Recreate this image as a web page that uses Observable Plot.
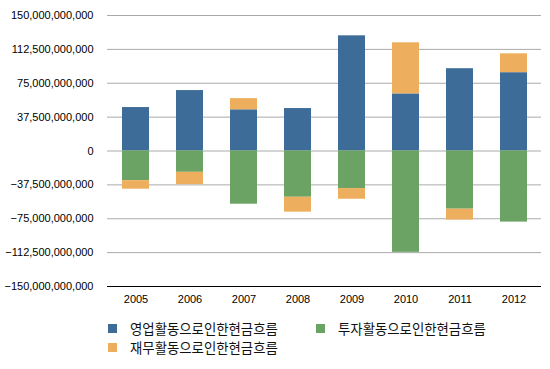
<!DOCTYPE html>
<html>
<head>
<meta charset="utf-8">
<script src="https://cdn.jsdelivr.net/npm/d3@7"></script>
<script src="https://cdn.jsdelivr.net/npm/@observablehq/plot@0.6"></script>
<style>
  body { margin: 0; background: #fff; width: 550px; height: 369px; overflow: hidden; position: relative; }
  #chart svg { display: block; }
  .legend { position: absolute; left: 0; top: 0; width: 550px; height: 369px; font-family: "Noto Sans CJK KR", sans-serif; font-size: 13.4px; color: #111; }
  .item { position: absolute; white-space: nowrap; line-height: 15px; height: 15px; }
  .sw { position: absolute; width: 9px; height: 9px; top: 3px; }
  .lbl { position: absolute; top: 0; }
</style>
</head>
<body>
<div id="chart"></div>
<div class="legend" id="legend"></div>
<script>
const years = ["2005", "2006", "2007", "2008", "2009", "2010", "2011", "2012"];
const seriesNames = ["영업활동으로인한현금흐름", "투자활동으로인한현금흐름", "재무활동으로인한현금흐름"];
const seriesColors = ["#3c6c97", "#6aa363", "#edaf5d"];
// values in billions (KRW)
const operating = [48.1, 66.9, 45.6, 47.0, 127.5, 63.2, 91.1, 86.7];
const investing = [-32.8, -23.6, -58.9, -51.2, -41.6, -112.2, -64.4, -78.7];
const financing = [-9.5, -13.6, 12.4, -16.5, -11.8, 56.6, -12.1, 20.9];
const yTicks = [150e9, 112.5e9, 75e9, 37.5e9, 0, -37.5e9, -75e9, -112.5e9, -150e9];

const seriesValues = [operating, investing, financing];
const rows = [];
years.forEach((yr, i) => {
  seriesValues.forEach((vals, s) => {
    rows.push({year: yr, series: seriesNames[s], value: vals[i] * 1e9});
  });
});

const fmt = d3.format(",");

const chart = Plot.plot({
  width: 550,
  height: 310,
  marginTop: 15,
  marginBottom: 24,
  marginLeft: 107,
  marginRight: 9,
  style: {fontFamily: "'Liberation Sans', Arial, sans-serif", fontSize: "11px", color: "#000", background: "#fff"},
  x: {domain: years, paddingInner: 0.5, paddingOuter: 0.25, label: null},
  y: {domain: [-150e9, 150e9], label: null},
  color: {domain: seriesNames, range: seriesColors},
  marks: [
    Plot.gridY(yTicks.filter(t => t !== -150e9), {stroke: "#aaa", strokeOpacity: 1, strokeWidth: 1}),
    Plot.barY(rows, {x: "year", y: "value", fill: "series"}),
    Plot.ruleY([-150e9], {stroke: "#000", strokeWidth: 1}),
    Plot.axisY(yTicks, {tickSize: 0, tickPadding: 14, tickFormat: fmt, label: null, fontSize: 11}),
    Plot.axisX({tickSize: 0, tickPadding: 9, label: null, fontSize: 11})
  ]
});
document.getElementById("chart").appendChild(chart);

// legend
const legend = document.getElementById("legend");
const positions = [
  {left: 108, top: 321},
  {left: 316, top: 321},
  {left: 108, top: 340}
];
seriesNames.forEach((name, i) => {
  const it = document.createElement("div");
  it.className = "item";
  it.style.left = positions[i].left + "px";
  it.style.top = positions[i].top + "px";
  const sw = document.createElement("span");
  sw.className = "sw";
  sw.style.background = seriesColors[i];
  sw.style.left = "0px";
  const lb = document.createElement("span");
  lb.className = "lbl";
  lb.style.left = "22px";
  lb.textContent = name;
  it.appendChild(sw);
  it.appendChild(lb);
  legend.appendChild(it);
});
</script>
</body>
</html>
